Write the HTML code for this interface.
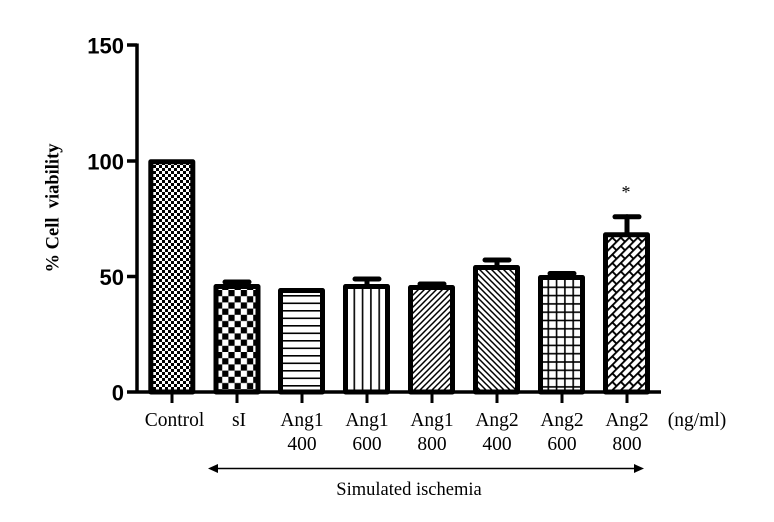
<!DOCTYPE html>
<html><head><meta charset="utf-8"><style>
html,body{margin:0;padding:0;background:#fff;}
svg{display:block;}
</style></head><body>
<svg width="774" height="522" viewBox="0 0 774 522" xmlns="http://www.w3.org/2000/svg">
<defs>
  <pattern id="pCtrl" width="6" height="6" patternUnits="userSpaceOnUse">
    <rect width="6" height="6" fill="#fff"/>
    <rect x="0" y="0" width="3" height="3" fill="#000"/>
    <rect x="3" y="3" width="3" height="3" fill="#000"/>
  </pattern>
  <pattern id="pSI" width="12.4" height="12.4" patternUnits="userSpaceOnUse" x="216" y="290">
    <rect width="12.4" height="12.4" fill="#fff"/>
    <rect x="0" y="0" width="6.2" height="6.2" fill="#000"/>
    <rect x="6.2" y="6.2" width="6.2" height="6.2" fill="#000"/>
  </pattern>
  <pattern id="pH" width="10" height="7.5" patternUnits="userSpaceOnUse" y="290">
    <rect width="10" height="7.5" fill="#fff"/>
    <rect x="0" y="5" width="10" height="1.6" fill="#000"/>
  </pattern>
  <pattern id="pV" width="8.3" height="10" patternUnits="userSpaceOnUse" x="348">
    <rect width="8.3" height="10" fill="#fff"/>
    <rect x="5.5" y="0" width="1.6" height="10" fill="#000"/>
  </pattern>
  <pattern id="pD1" width="6" height="6" patternUnits="userSpaceOnUse">
    <rect width="6" height="6" fill="#fff"/>
    <path d="M-1,7 L7,-1 M-1,1 L1,-1 M5,7 L7,5" stroke="#000" stroke-width="1.5"/>
  </pattern>
  <pattern id="pD2" width="6" height="6" patternUnits="userSpaceOnUse">
    <rect width="6" height="6" fill="#fff"/>
    <path d="M-1,-1 L7,7 M5,-1 L7,1 M-1,5 L1,7" stroke="#000" stroke-width="1.5"/>
  </pattern>
  <pattern id="pGrid" width="8.3" height="8.3" patternUnits="userSpaceOnUse" x="541" y="280">
    <rect width="8.3" height="8.3" fill="#fff"/>
    <rect x="6.5" y="0" width="1.6" height="8.3" fill="#000"/>
    <rect x="0" y="6.5" width="8.3" height="1.6" fill="#000"/>
  </pattern>
  <pattern id="pBrick" width="12" height="12" patternUnits="userSpaceOnUse" patternTransform="rotate(-45)">
    <rect width="12" height="12" fill="#fff"/>
    <path d="M0,0.9 H12 M0,6.9 H12 M1,0 V6 M7,6 V12" stroke="#000" stroke-width="1.9"/>
  </pattern>
</defs>

<!-- Y axis -->
<g stroke="#000" stroke-width="3.5" fill="none">
  <line x1="137" y1="43.5" x2="137" y2="393.5"/>
  <line x1="127" y1="45" x2="137" y2="45"/>
  <line x1="127" y1="161" x2="137" y2="161"/>
  <line x1="127" y1="276.5" x2="137" y2="276.5"/>
  <line x1="127" y1="392" x2="661" y2="392"/>
</g>
<g font-family="'Liberation Sans', Arial, sans-serif" font-weight="bold" font-size="22" text-anchor="end" fill="#000">
  <text x="124" y="53.5">150</text>
  <text x="124" y="169.5">100</text>
  <text x="124" y="285">50</text>
  <text x="124" y="400.5">0</text>
</g>
<text transform="translate(58.5,208) rotate(-90)" text-anchor="middle" font-family="'Liberation Serif', 'Times New Roman', serif" font-weight="bold" font-size="18.5" fill="#000" xml:space="preserve">% Cell  viability</text>

<!-- x ticks -->
<g stroke="#000" stroke-width="3">
  <line x1="172" y1="392" x2="172" y2="403"/>
  <line x1="237" y1="392" x2="237" y2="403"/>
  <line x1="302" y1="392" x2="302" y2="403"/>
  <line x1="367" y1="392" x2="367" y2="403"/>
  <line x1="432" y1="392" x2="432" y2="403"/>
  <line x1="497" y1="392" x2="497" y2="403"/>
  <line x1="562" y1="392" x2="562" y2="403"/>
  <line x1="627" y1="392" x2="627" y2="403"/>
</g>

<!-- error bars -->
<g stroke="#000" stroke-width="5" stroke-linecap="round" fill="none">
  <line x1="237" y1="286" x2="237" y2="282"/><line x1="225" y1="282" x2="249" y2="282"/>
  <line x1="367" y1="286" x2="367" y2="279"/><line x1="355" y1="279" x2="379" y2="279"/>
  <line x1="432" y1="287" x2="432" y2="284"/><line x1="420" y1="284" x2="444" y2="284"/>
  <line x1="497" y1="267" x2="497" y2="260"/><line x1="485" y1="260" x2="509" y2="260"/>
  <line x1="562" y1="277" x2="562" y2="273.5"/><line x1="550" y1="273.5" x2="574" y2="273.5"/>
  <line x1="627" y1="234" x2="627" y2="216.8"/><line x1="615" y1="216.8" x2="639" y2="216.8"/>
</g>

<!-- bars -->
<g stroke="#000" stroke-width="5" stroke-linejoin="round">
  <rect x="150.8" y="161.8" width="42" height="230.2" fill="url(#pCtrl)"/>
  <rect x="216" y="286.5" width="42" height="105.5" fill="url(#pSI)"/>
  <rect x="280.5" y="290.5" width="42" height="101.5" fill="url(#pH)"/>
  <rect x="345.5" y="286.5" width="42" height="105.5" fill="url(#pV)"/>
  <rect x="410.5" y="287.5" width="42" height="104.5" fill="url(#pD1)"/>
  <rect x="475.5" y="267.5" width="42" height="124.5" fill="url(#pD2)"/>
  <rect x="540.5" y="277.5" width="42" height="114.5" fill="url(#pGrid)"/>
  <rect x="605.5" y="234.8" width="42" height="157.2" fill="url(#pBrick)"/>
</g>

<text x="626" y="198" text-anchor="middle" font-family="'Liberation Serif', 'Times New Roman', serif" font-size="18" fill="#000">*</text>

<!-- x labels -->
<g font-family="'Liberation Serif', 'Times New Roman', serif" font-size="19.5" text-anchor="middle" fill="#000">
  <text x="174.5" y="426">Control</text>
  <text x="239" y="426">sI</text>
  <text x="302" y="426">Ang1</text><text x="302" y="450">400</text>
  <text x="367" y="426">Ang1</text><text x="367" y="450">600</text>
  <text x="432" y="426">Ang1</text><text x="432" y="450">800</text>
  <text x="497" y="426">Ang2</text><text x="497" y="450">400</text>
  <text x="562" y="426">Ang2</text><text x="562" y="450">600</text>
  <text x="627" y="426">Ang2</text><text x="627" y="450">800</text>
  <text x="697" y="426">(ng/ml)</text>
</g>

<!-- arrow -->
<line x1="215" y1="468.5" x2="637" y2="468.5" stroke="#000" stroke-width="1.4"/>
<polygon points="208,468.5 218,464 218,473" fill="#000"/>
<polygon points="644,468.5 634,464 634,473" fill="#000"/>
<text x="409" y="495" text-anchor="middle" font-family="'Liberation Serif', 'Times New Roman', serif" font-size="18.5" fill="#000">Simulated ischemia</text>
</svg>
</body></html>
